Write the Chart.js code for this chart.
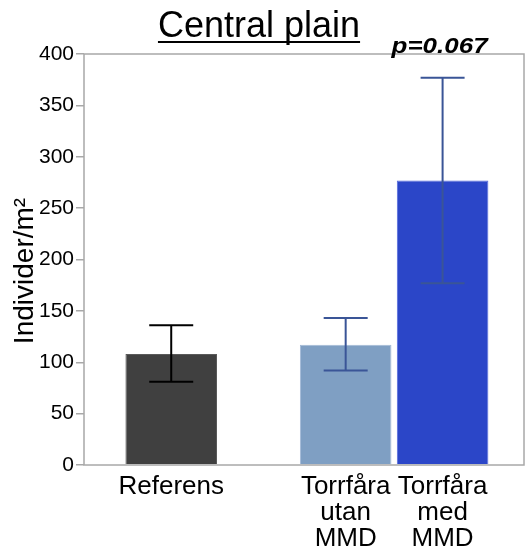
<!DOCTYPE html>
<html>
<head>
<meta charset="utf-8">
<script src="https://cdn.jsdelivr.net/npm/chart.js@4.4.1/dist/chart.umd.min.js"></script>
<style>
  html, body { margin: 0; padding: 0; background: #ffffff; }
  #wrap { width: 526px; height: 549px; }
</style>
</head>
<body>
<div id="wrap"><canvas id="chart" width="526" height="549"></canvas></div>
<script>
// Density per site type (individuals per m²), mean with error range
const categories = ['Referens', 'Torrfåra utan MMD', 'Torrfåra med MMD'];
const categoryLines = [['Referens'], ['Torrfåra', 'utan', 'MMD'], ['Torrfåra', 'med', 'MMD']];
const meanValues = [108, 117, 277];
const errorLow = [81, 92, 177];
const errorHigh = [136, 143, 377];
const yTickValues = [0, 50, 100, 150, 200, 250, 300, 350, 400];
const chartTitle = 'Central plain';
const yAxisTitle = 'Individer/m²';
const pValueLabel = 'p=0.067';

// Layout: where each bar sits along a linear x axis (Torrfåra pair grouped together)
const slotPositions = [0.9, 2.7, 3.7];
const xRange = [0, 4.54];

const barColors = ['#404040', '#7f9fc3', '#2b46c8'];
const barEdgeColors = ['#5a5a5a', '#a3b9d6', '#5468dc'];
const errorColors = ['#000000', '#3a5597', '#3a5597'];
const axisGray = '#a8a8a8';
const FONT = '"Liberation Sans", Arial, sans-serif';

const decorations = {
  id: 'decorations',
  afterDatasetsDraw(chart) {
    const ctx = chart.ctx;
    const y = chart.scales.y;
    const meta = chart.getDatasetMeta(0);
    const area = chart.chartArea;

    // frame around the plot area
    ctx.save();
    ctx.strokeStyle = axisGray;
    ctx.lineWidth = 1.5;
    ctx.strokeRect(area.left, area.top, area.right - area.left, area.bottom - area.top);
    ctx.restore();

    // error bars
    ctx.save();
    ctx.lineWidth = 2;
    meta.data.forEach((bar, i) => {
      const x = bar.x;
      const yHi = y.getPixelForValue(errorHigh[i]);
      const yLo = y.getPixelForValue(errorLow[i]);
      const cap = 22;
      ctx.strokeStyle = errorColors[i];
      ctx.beginPath();
      ctx.moveTo(x, yHi); ctx.lineTo(x, yLo);
      ctx.moveTo(x - cap, yHi); ctx.lineTo(x + cap, yHi);
      ctx.moveTo(x - cap, yLo); ctx.lineTo(x + cap, yLo);
      ctx.stroke();
    });
    ctx.restore();
  },
  afterDraw(chart) {
    const ctx = chart.ctx;
    const area = chart.chartArea;
    const meta = chart.getDatasetMeta(0);

    // underlined title
    ctx.save();
    ctx.fillStyle = '#000';
    ctx.font = '36px ' + FONT;
    ctx.textAlign = 'center';
    ctx.textBaseline = 'alphabetic';
    const tx = 259, ty = 37;
    ctx.fillText(chartTitle, tx, ty);
    const w = ctx.measureText(chartTitle).width;
    ctx.fillRect(tx - w / 2, ty + 4, w, 2);
    ctx.restore();

    // p-value above the last bar
    ctx.save();
    ctx.fillStyle = '#000';
    ctx.font = 'italic bold 22px ' + FONT;
    ctx.textAlign = 'center';
    ctx.textBaseline = 'alphabetic';
    const px = meta.data[2].x - 3;
    ctx.translate(px, area.top - 1);
    ctx.scale(1.18, 1);
    ctx.fillText(pValueLabel, 0, 0);
    ctx.restore();

    // rotated y-axis title
    ctx.save();
    ctx.fillStyle = '#000';
    ctx.font = '28px ' + FONT;
    ctx.textAlign = 'center';
    ctx.textBaseline = 'alphabetic';
    ctx.translate(33, 271);
    ctx.rotate(-Math.PI / 2);
    ctx.fillText(yAxisTitle, 0, 0);
    ctx.restore();
  }
};

new Chart(document.getElementById('chart'), {
  type: 'bar',
  data: {
    labels: categories,
    datasets: [{
      label: 'Individer/m²',
      data: meanValues.map((v, i) => ({ x: slotPositions[i], y: v })),
      backgroundColor: barColors,
      borderColor: barEdgeColors,
      borderWidth: 1,
      categoryPercentage: 1,
      barPercentage: 0.945
    }]
  },
  options: {
    responsive: false,
    animation: false,
    devicePixelRatio: 1,
    layout: { padding: { top: 54, right: 2, left: 0, bottom: 0 } },
    plugins: {
      legend: { display: false },
      title: { display: false },
      tooltip: { enabled: false }
    },
    scales: {
      x: {
        type: 'linear',
        min: xRange[0],
        max: xRange[1],
        offset: false,
        afterBuildTicks(scale) {
          scale.ticks = slotPositions.map(v => ({ value: v }));
        },
        afterFit(scale) { scale.height = 84; },
        grid: { display: false },
        border: { display: false },
        ticks: {
          autoSkip: false,
          maxRotation: 0,
          minRotation: 0,
          padding: 1,
          color: '#000',
          font: { family: FONT, size: 26, lineHeight: 0.99 },
          callback(value) {
            const i = slotPositions.indexOf(value);
            return i >= 0 ? categoryLines[i] : '';
          }
        }
      },
      y: {
        min: 0,
        max: 400,
        afterBuildTicks(scale) {
          scale.ticks = yTickValues.map(v => ({ value: v }));
        },
        afterFit(scale) { scale.width = 84; },
        grid: {
          drawOnChartArea: false,
          drawTicks: true,
          tickLength: 8,
          color: axisGray,
          lineWidth: 1.5
        },
        border: { display: false },
        ticks: {
          padding: 2,
          color: '#000',
          font: { family: FONT, size: 21 }
        }
      }
    }
  },
  plugins: [decorations]
});
</script>
</body>
</html>
